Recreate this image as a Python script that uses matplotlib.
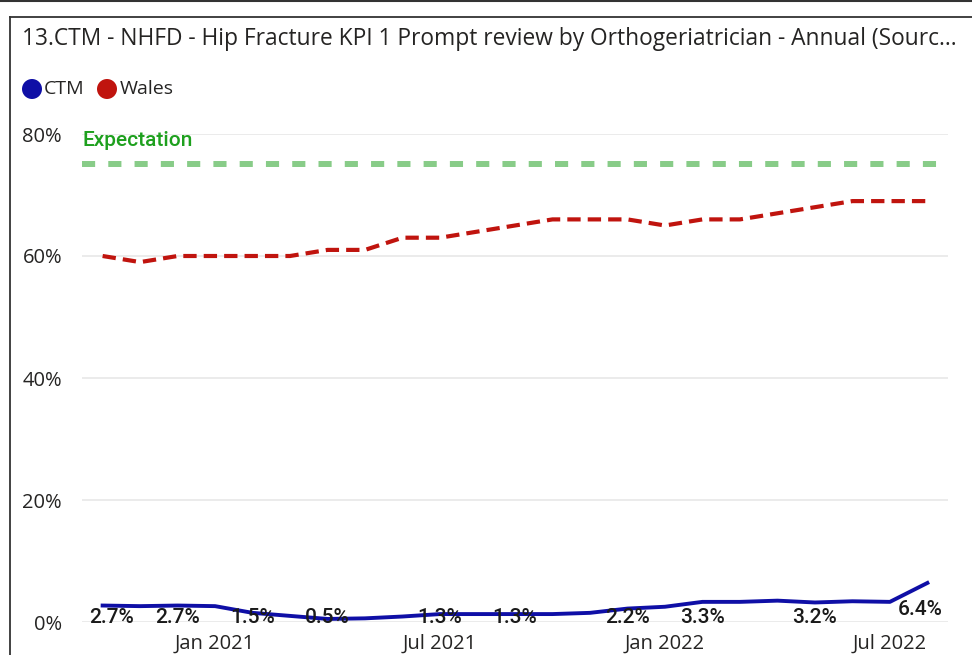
import numpy as np
import matplotlib
matplotlib.use("Agg")
import matplotlib.pyplot as plt
from matplotlib.lines import Line2D
from matplotlib.patches import Ellipse

# monthly series, Oct 2020 .. Aug 2022
months = ["Oct 2020", "Nov 2020", "Dec 2020", "Jan 2021", "Feb 2021", "Mar 2021",
          "Apr 2021", "May 2021", "Jun 2021", "Jul 2021", "Aug 2021", "Sep 2021",
          "Oct 2021", "Nov 2021", "Dec 2021", "Jan 2022", "Feb 2022", "Mar 2022",
          "Apr 2022", "May 2022", "Jun 2022", "Jul 2022", "Aug 2022"]
ctm = [2.7, 2.6, 2.7, 2.6, 1.5, 1.0, 0.5, 0.6, 0.9, 1.3, 1.3, 1.3,
       1.3, 1.5, 2.2, 2.5, 3.3, 3.3, 3.5, 3.2, 3.4, 3.3, 6.4]
wales = [60, 59, 60, 60, 60, 60, 61, 61, 63, 63, 64, 65,
         66, 66, 66, 65, 66, 66, 67, 68, 69, 69, 69]
expectation = 75
labelled = [0, 2, 4, 6, 9, 11, 14, 16, 19, 22]
tick_months = ["Jan 2021", "Jul 2021", "Jan 2022", "Jul 2022"]
yticks = [0, 20, 40, 60, 80]

BLUE = "#0F0FA6"
RED = "#C0140E"
GREEN_LINE = "#88CC88"
GREEN_TXT = "#1EA01E"
TXT = "#252423"
GRID = "#E8E8E8"

W, H = 972, 655
fig = plt.figure(figsize=(W / 100, H / 100), dpi=100)

# frame of the visual (screenshot crop)
fig.add_artist(Line2D([0, 1], [1 - 1 / H, 1 - 1 / H], color="#333333", lw=1.5))
fig.add_artist(Line2D([9.5 / W, 1], [1 - 16.5 / H, 1 - 16.5 / H], color="#333333", lw=1.3))
fig.add_artist(Line2D([9.5 / W, 9.5 / W], [0, 1 - 16.5 / H], color="#333333", lw=1.3))

fig.text(22 / W, 1 - 39 / H,
         "13.CTM - NHFD - Hip Fracture KPI 1 Prompt review by Orthogeriatrician - Annual (Sourc\u2026",
         fontsize=16.4, family="Open Sans", color=TXT, va="center", ha="left")

# legend
for cx, col in [(32, BLUE), (107, RED)]:
    fig.add_artist(Ellipse((cx / W, 1 - 89 / H), 20 / W, 20 / H,
                           transform=fig.transFigure, color=col, ec="none"))
fig.text(44 / W, 1 - 89 / H, "CTM", fontsize=14, family="Open Sans", color=TXT, va="center")
fig.text(120 / W, 1 - 89 / H, "Wales", fontsize=14, family="Open Sans", color=TXT, va="center")

ax = fig.add_axes([82 / W, (H - 622) / H, (948 - 82) / W, (622 - 134) / H])
x = np.arange(len(months))
ax.set_xlim(-0.55, len(months) - 1 + 0.55)
ax.set_ylim(0, 80)

for y in yticks:
    ax.axhline(y, color=GRID, lw=1.2, zorder=0)

ax.axhline(expectation, color=GREEN_LINE, lw=4.3, dashes=(2.2, 2.2), zorder=2)
ax.text(0.0, 79.0, "Expectation", color=GREEN_TXT, fontsize=15, family="Roboto",
        fontweight="medium", va="center", ha="left",
        transform=ax.get_yaxis_transform())

ax.plot(x, wales, color=RED, lw=3, dashes=(3.2, 1.7), solid_joinstyle="round", zorder=3)
ax.plot(x, ctm, color=BLUE, lw=2.8, solid_joinstyle="round", clip_on=False, zorder=4)

for i in labelled:
    ly = max(ctm[i] - 4.3, 0.8)
    dx = 0
    if i == 0:
        dx = 0.25
    if i == len(ctm) - 1:
        dx = -0.2
    ax.text(x[i] + dx, ly, f"{ctm[i]:.1f}%", ha="center", va="center", fontsize=15,
            family="Roboto", fontweight="medium", color="#1a1a1a", clip_on=False, zorder=5)

ax.set_yticks(yticks)
ax.set_yticklabels([f"{v}%" for v in yticks], family="Open Sans", fontsize=14.5, color=TXT)
ax.set_xticks([months.index(m) for m in tick_months])
ax.set_xticklabels(tick_months, family="Open Sans", fontsize=14.5, color=TXT)
ax.tick_params(axis="both", length=0)
ax.tick_params(axis="y", pad=14.4)
ax.tick_params(axis="x", pad=8.5)
for s in ax.spines.values():
    s.set_visible(False)

fig.savefig("out.png", dpi=100)
